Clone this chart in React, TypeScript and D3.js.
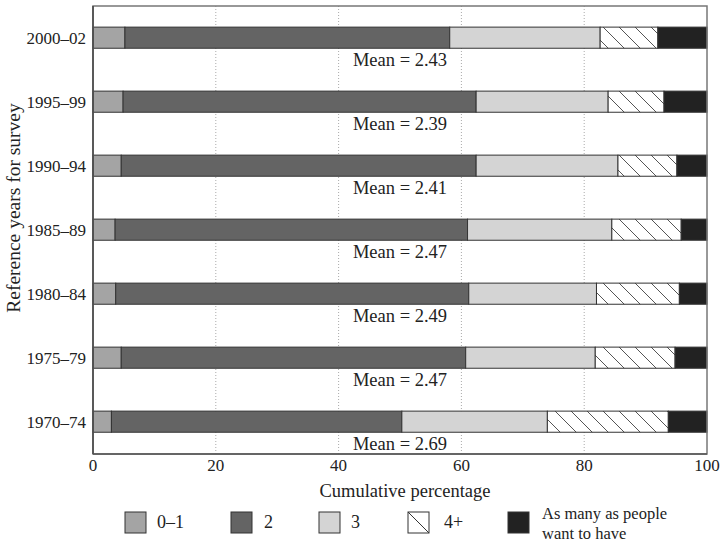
import React from "react";
import * as d3 from "d3";

const categories = ["2000–02", "1995–99", "1990–94", "1985–89", "1980–84", "1975–79", "1970–74"];
const seriesNames = ["0–1", "2", "3", "4+", "As many as people want to have"];
const v01 = [5.2, 4.9, 4.6, 3.6, 3.7, 4.6, 3.0];
const v2 = [52.9, 57.5, 57.8, 57.4, 57.5, 56.1, 47.3];
const v3 = [24.5, 21.5, 23.1, 23.5, 20.8, 21.1, 23.7];
const v4 = [9.4, 9.1, 9.6, 11.3, 13.5, 13.0, 19.7];
const vMany = [8.0, 7.0, 4.9, 4.2, 4.5, 5.2, 6.3];
const means = ["2.43", "2.39", "2.41", "2.47", "2.49", "2.47", "2.69"];
const xTicks = [0, 20, 40, 60, 80, 100];

const fills = ["#a4a4a4", "#646464", "#d4d4d4", "url(#hatch)", "#222222"];
const FONT = "Liberation Serif, DejaVu Serif, serif";

export default function App() {
  const W = 723, H = 543;
  const left = 93, right = 707, top = 6, bottom = 454;
  const x = d3.scaleLinear().domain([0, 100]).range([left, right]);
  const y = d3.scaleBand().domain(categories).range([top, bottom]).padding(0);
  const bw = y.bandwidth();
  const series = [v01, v2, v3, v4, vMany];

  const rows = categories.map((c, i) => {
    const vals = series.map((s) => s[i]);
    const cum = [0, ...(d3.cumsum(vals) as any)];
    return { c, vals, cum };
  });

  const legendItems = [
    { x: 125, label: "0–1", off: 32 },
    { x: 231, label: "2", off: 33 },
    { x: 319, label: "3", off: 32 },
    { x: 408, label: "4+", off: 36 },
    { x: 508, label: "As many as people", off: 34 },
  ];

  return (
    <svg width={W} height={H} fontFamily={FONT} style={{ position: "absolute", left: 0, top: 0 }}>
      <defs>
        <pattern id="hatch" patternUnits="userSpaceOnUse" width={16} height={16}>
          <rect width={16} height={16} fill="#fff" />
          <path d="M0,0L16,16M-4,12L4,20M12,-4L20,4" stroke="#555" strokeWidth={1} />
        </pattern>
      </defs>
      <rect x={0} y={0} width={W} height={H} fill="#fff" />
      {xTicks.slice(1, -1).map((t) => (
        <line key={t} x1={x(t)} x2={x(t)} y1={top} y2={bottom} stroke="#aaa" strokeWidth={1} strokeDasharray="1,2" />
      ))}
      {rows.map((r) => {
        const y0 = (y(r.c) as number) + bw * 0.33;
        const h = bw * 0.33;
        return (
          <g key={r.c}>
            {r.vals.map((v, j) => (
              <rect
                key={j}
                x={x(r.cum[j])}
                y={y0}
                width={x(r.cum[j + 1]) - x(r.cum[j])}
                height={h}
                fill={fills[j]}
                stroke="#333"
                strokeWidth={1}
              />
            ))}
            <text x={x(0) - 7} y={y0 + h / 2} dy="0.35em" textAnchor="end" fontSize={17} fill="#222">
              {r.c}
            </text>
          </g>
        );
      })}
      {rows.map((r, i) => (
        <text key={"m" + r.c} x={x(50)} y={(y(r.c) as number) + bw * 0.94} textAnchor="middle" fontSize={18.5} fill="#222">
          {"Mean = " + means[i]}
        </text>
      ))}
      <rect x={left} y={top} width={right - left} height={bottom - top} fill="none" stroke="#777" strokeWidth={1.5} />
      <line x1={left} x2={left} y1={top} y2={bottom} stroke="#444" strokeWidth={1.5} />
      <line x1={left} x2={right} y1={bottom} y2={bottom} stroke="#555" strokeWidth={1.5} />
      {xTicks.map((t) => (
        <text key={t} x={x(t)} y={471} textAnchor="middle" fontSize={17} fill="#222">
          {t}
        </text>
      ))}
      <text x={(left + right) / 2 + 5} y={497} textAnchor="middle" fontSize={18.5} fill="#222">
        Cumulative percentage
      </text>
      <text transform="translate(20,208) rotate(-90)" textAnchor="middle" fontSize={19.5} fill="#222">
        Reference years for survey
      </text>
      {legendItems.map((it, j) => (
        <g key={j}>
          <rect x={it.x} y={512} width={21} height={21} fill={j === 3 ? "#fff" : fills[j]} stroke="#333" strokeWidth={1} />
          {j === 3 && <line x1={it.x} y1={512} x2={it.x + 21} y2={533} stroke="#333" strokeWidth={1} />}
          {j < 4 ? (
            <text x={it.x + it.off} y={528} fontSize={18} fill="#222">
              {it.label}
            </text>
          ) : (
            <g>
              <text x={it.x + it.off} y={519} fontSize={16.5} fill="#222">As many as people</text>
              <text x={it.x + it.off} y={538.5} fontSize={16.5} fill="#222">want to have</text>
            </g>
          )}
        </g>
      ))}
    </svg>
  );
}
